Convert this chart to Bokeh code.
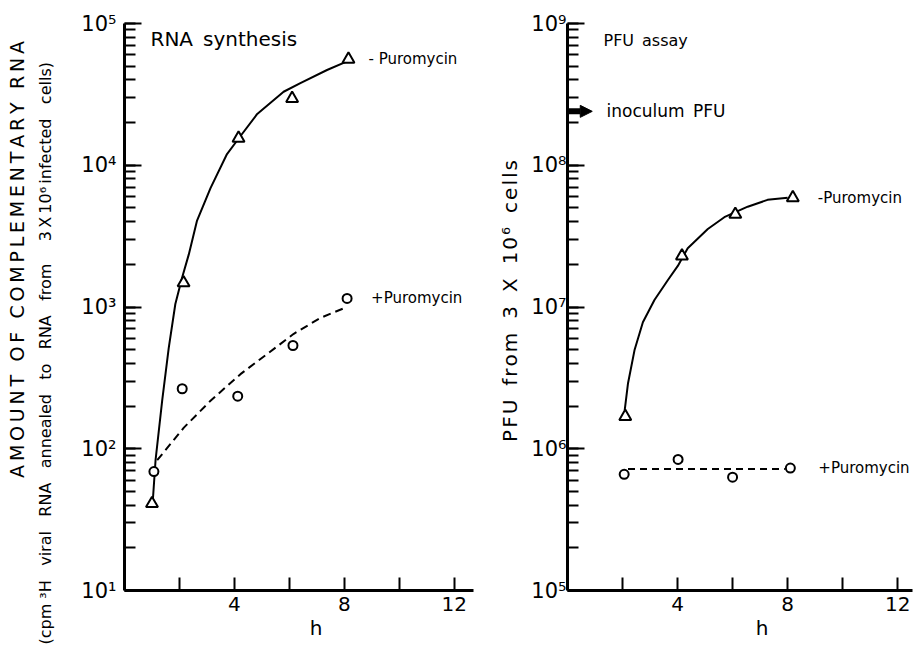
import math
import json
from bokeh.plotting import figure
from bokeh.layouts import row
from bokeh.models import (Label, Arrow, NormalHead, FixedTicker, LogTicker,
                          CustomJSTickFormatter, Range1d, LinearAxis, Title)
from bokeh.embed import file_html
from bokeh.resources import INLINE

# ---------------- data ----------------
# Left panel: RNA synthesis (cpm)
rna_minus_x = [1.0, 2.15, 4.15, 6.1, 8.15]
rna_minus_y = [41, 1480, 15500, 29600, 56000]
rna_plus_x = [1.07, 2.1, 4.12, 6.13, 8.1]
rna_plus_y = [69, 265, 235, 535, 1150]
# hand-drawn fit curves
rna_minus_fit_x = [1.03, 1.13, 1.37, 1.61, 1.85, 2.1, 2.34, 2.64, 3.13, 3.73,
                   4.16, 4.83, 5.79, 6.4, 7.37, 8.1]
rna_minus_fit_y = [43, 83, 218, 515, 1050, 1620, 2350, 4070, 6900, 12000,
                   15500, 23000, 33000, 38000, 47000, 54000]
rna_plus_fit_x = [1.19, 2.16, 3.13, 4.22, 5.19, 6.16, 7.13, 8.04]
rna_plus_fit_y = [83, 141, 218, 336, 466, 647, 838, 990]

# Right panel: PFU assay
pfu_minus_x = [2.1, 4.16, 6.1, 8.19]
pfu_minus_y = [1.69e6, 2.29e7, 4.5e7, 5.9e7]
pfu_plus_x = [2.06, 4.02, 6.0, 8.1]
pfu_plus_y = [6.6e5, 8.4e5, 6.3e5, 7.3e5]
pfu_minus_fit_x = [2.08, 2.2, 2.44, 2.74, 3.16, 3.65, 4.01, 4.37, 5.1, 5.7,
                   6.55, 7.27, 8.0]
pfu_minus_fit_y = [1.87e6, 2.9e6, 5.0e6, 7.8e6, 1.12e7, 1.55e7, 1.95e7, 2.6e7,
                   3.55e7, 4.3e7, 5.1e7, 5.7e7, 5.9e7]
pfu_plus_fit_x = [2.2, 7.9]
pfu_plus_fit_y = [7.2e5, 7.2e5]
inoculum_pfu = 2.4e8

x_ticks = [2, 4, 6, 8, 10, 12]
x_tick_labels = {"2": "", "4": "4", "6": "", "8": "8", "10": "", "12": "12"}
rna_y_range = (10, 1e5)
pfu_y_range = (1e5, 1e9)

FONT = "DejaVu Sans"
EM = "\u2003"
EN = "\u2002"
THIN = "\u2009"
HAIR = "\u200a"


def spaced(text, sep=THIN, word_sep=EN + THIN):
    words = text.split(" ")
    return word_sep.join(sep.join(list(w)) for w in words)


sup_js = """
const sup = {"0":"\u2070","1":"\u00b9","2":"\u00b2","3":"\u00b3","4":"\u2074",
             "5":"\u2075","6":"\u2076","7":"\u2077","8":"\u2078","9":"\u2079"};
const e = Math.round(Math.log10(tick));
return "10" + String(e).split("").map(c => sup[c]).join("");
"""


def make_fig(width, border_left, border_right, xr, yr, ylab_standoff):
    p = figure(width=width, height=650, x_range=Range1d(*xr),
               y_range=Range1d(*yr), y_axis_type="log",
               output_backend="svg", toolbar_location=None,
               min_border_left=border_left, min_border_right=border_right,
               min_border_top=23, min_border_bottom=60)
    p.outline_line_color = None
    p.grid.visible = False
    p.background_fill_color = "white"
    p.border_fill_color = "white"

    xa = p.xaxis[0]
    xa.ticker = FixedTicker(ticks=x_ticks)
    xa.formatter = CustomJSTickFormatter(
        code="const labels = " + json.dumps(x_tick_labels) +
             "; const s = labels[String(tick)]; return s === undefined ? '' : s;")
    xa.major_tick_in = 13
    xa.major_tick_out = 0
    xa.minor_tick_in = 0
    xa.minor_tick_out = 0
    xa.axis_line_width = 3
    xa.major_tick_line_width = 2
    xa.major_label_text_font = FONT
    xa.major_label_text_font_size = "20px"
    xa.major_label_standoff = 6
    xa.major_label_text_color = "black"
    xa.axis_label_text_font = FONT
    xa.axis_label_text_font_size = "20px"
    xa.axis_label_text_font_style = "normal"
    xa.axis_label_text_color = "black"
    xa.axis_label_standoff = 2

    ya = p.yaxis[0]
    ya.ticker = LogTicker(desired_num_ticks=5, num_minor_ticks=10)
    ya.formatter = CustomJSTickFormatter(code=sup_js)
    ya.major_tick_in = 17
    ya.major_tick_out = 0
    ya.minor_tick_in = 11
    ya.minor_tick_out = 0
    ya.axis_line_width = 3
    ya.major_tick_line_width = 2
    ya.minor_tick_line_width = 2
    ya.major_label_text_font = FONT
    ya.major_label_text_font_size = "21px"
    ya.major_label_standoff = ylab_standoff
    ya.major_label_text_color = "black"
    ya.axis_label_text_font = FONT
    ya.axis_label_text_font_style = "normal"
    ya.axis_label_text_color = "black"
    return p


def blank_axis(label, size, standoff):
    return LinearAxis(ticker=FixedTicker(ticks=[]),
                      axis_line_color=None, major_tick_line_color=None,
                      minor_tick_line_color=None,
                      major_label_text_font_size="0px",
                      major_label_standoff=0,
                      axis_label=label,
                      axis_label_text_font=FONT,
                      axis_label_text_font_size=size,
                      axis_label_text_font_style="normal",
                      axis_label_text_color="black",
                      axis_label_standoff=standoff)


def add_text(p, x, y, text, size, xu="screen", yu="screen", x_offset=0):
    p.add_layout(Label(x=x, y=y, x_units=xu, y_units=yu, text=text,
                       text_align="left", text_baseline="middle",
                       text_font=FONT, text_font_size=size, text_color="black",
                       x_offset=x_offset))


# ---------------- left panel ----------------
p1 = make_fig(495, 124, 22, (0, 12.7), rna_y_range, 8)
p1.line(rna_minus_fit_x, rna_minus_fit_y, line_width=2, line_color="black")
p1.line(rna_plus_fit_x, rna_plus_fit_y, line_width=2, line_color="black",
        line_dash="8 5")
p1.scatter(rna_minus_x, rna_minus_y, marker="triangle", size=12,
           line_color="black", fill_color="white", line_width=2)
p1.scatter(rna_plus_x, rna_plus_y, marker="circle", size=9,
           line_color="black", fill_color="white", line_width=2)

p1.xaxis[0].axis_label = EM + EN + THIN + "h"

# spacer between tick labels and the second label line
p1.add_layout(blank_axis(" ", "1px", 19), "left")

WS = EN + THIN + THIN
cpm_text = ("(cpm \u00b3H" + WS + "viral" + WS + "RNA" + WS + "annealed" + WS +
            "to" + WS + "RNA" + WS + "from" + WS + EN + "3" + THIN + "X" + THIN +
            "10\u2076" + THIN + "infected" + WS + "cells)")
cpm_title = Title(text=cpm_text, align="left", offset=-54,
                  text_font=FONT, text_font_size="16px",
                  text_font_style="normal", text_color="black", standoff=2)
p1.add_layout(cpm_title, "left")

p1.add_layout(blank_axis(EM * 5 + spaced("AMOUNT OF COMPLEMENTARY RNA"),
                         "19px", 5), "left")

add_text(p1, 26, 552, "RNA" + EN + "synthesis", "20px")
add_text(p1, rna_minus_x[-1], rna_minus_y[-1], "- Puromycin", "15px",
         xu="data", yu="data", x_offset=20)
add_text(p1, rna_plus_x[-1], rna_plus_y[-1], "+Puromycin", "15px",
         xu="data", yu="data", x_offset=24)

# ---------------- right panel ----------------
p2 = make_fig(421, 71, 4, (0, 12.54), pfu_y_range, 1)
p2.line(pfu_minus_fit_x, pfu_minus_fit_y, line_width=2, line_color="black")
p2.line(pfu_plus_fit_x, pfu_plus_fit_y, line_width=2, line_color="black",
        line_dash="7 5")
p2.scatter(pfu_minus_x, pfu_minus_y, marker="triangle", size=12,
           line_color="black", fill_color="white", line_width=2)
p2.scatter(pfu_plus_x, pfu_plus_y, marker="circle", size=9,
           line_color="black", fill_color="white", line_width=2)

p2.add_layout(Arrow(end=NormalHead(size=12, fill_color="black", line_color="black"),
                    x_start=0, y_start=inoculum_pfu, x_end=0.9, y_end=inoculum_pfu,
                    line_width=6, line_color="black"))
add_text(p2, 39, inoculum_pfu, "inoculum" + EN + "PFU", "17px", yu="data")

p2.xaxis[0].axis_label = EM + EM + THIN + "h"
ya2 = p2.yaxis[0]
ya2.axis_label = THIN * 3 + spaced("PFU from 3 X 10\u2076 cells", sep=HAIR,
                                   word_sep=EN + THIN)
ya2.axis_label_text_font_size = "20px"
ya2.axis_label_standoff = 6

add_text(p2, 36, 550, "PFU" + EN + "assay", "16px")
add_text(p2, pfu_minus_x[-1], pfu_minus_y[-1], "-Puromycin", "15px",
         xu="data", yu="data", x_offset=25)
add_text(p2, pfu_plus_x[-1], pfu_plus_y[-1], "+Puromycin", "15px",
         xu="data", yu="data", x_offset=28)

layout = row(p1, p2)
open("out.html", "w").write(file_html(layout, INLINE))
